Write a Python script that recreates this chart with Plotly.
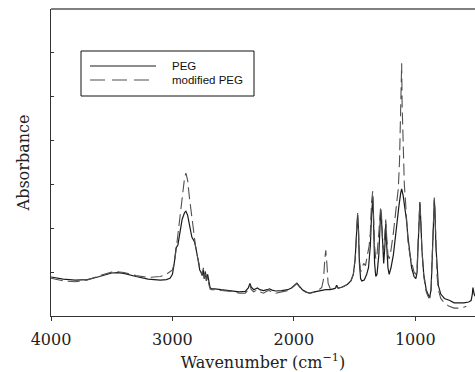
import plotly.graph_objects as go

# ---------------- data ----------------
peg_wn = [4000, 3900, 3800, 3700, 3600, 3500, 3450, 3400, 3300, 3200, 3100, 3050, 3020, 3000,
          2985, 2970, 2955, 2940, 2920, 2900, 2889, 2875, 2860, 2840, 2820, 2810, 2790, 2775,
          2765, 2755, 2745, 2738, 2728, 2720, 2710, 2700, 2690, 2680, 2650, 2600, 2500, 2450,
          2400, 2375, 2362, 2350, 2330, 2300, 2280, 2250, 2220, 2200, 2180, 2150, 2100, 2050,
          2020, 2000, 1975, 1955, 1930, 1900, 1870, 1830, 1800, 1760, 1737, 1700, 1660, 1647,
          1635, 1600, 1560, 1530, 1510, 1495, 1485, 1475, 1468, 1460, 1450, 1440, 1420, 1400,
          1385, 1370, 1360, 1350, 1345, 1335, 1325, 1315, 1300, 1285, 1278, 1268, 1260, 1250,
          1243, 1235, 1225, 1215, 1200, 1180, 1165, 1150, 1135, 1120, 1112, 1100, 1085, 1073,
          1060, 1045, 1030, 1010, 995, 985, 975, 968, 962, 955, 945, 930, 910, 890, 880, 870,
          860, 850, 843, 838, 830, 820, 810, 790, 760, 720, 680, 640, 600, 560, 540, 530, 525,
          515, 508]
peg_abs = [0.89, 0.84, 0.82, 0.83, 0.90, 0.98, 0.99, 0.97, 0.90, 0.84, 0.82, 0.83, 0.86, 0.95,
           1.20, 1.55, 1.62, 1.90, 2.20, 2.36, 2.39, 2.30, 2.05, 1.80, 1.70, 1.60, 1.30, 1.05,
           1.00, 0.92, 1.05, 0.85, 1.00, 0.80, 0.95, 0.78, 0.65, 0.62, 0.62, 0.60, 0.57, 0.55,
           0.56, 0.64, 0.74, 0.66, 0.60, 0.64, 0.60, 0.58, 0.60, 0.62, 0.59, 0.57, 0.58, 0.60,
           0.64, 0.70, 0.75, 0.68, 0.60, 0.55, 0.52, 0.55, 0.57, 0.59, 0.60, 0.60, 0.63, 0.70,
           0.63, 0.66, 0.72, 0.80, 0.95, 1.30, 1.80, 2.30, 2.00, 1.20, 0.85, 0.80, 0.82, 0.95,
           1.10, 1.60, 2.30, 2.70, 2.30, 1.20, 0.90, 0.95, 1.40, 2.40, 2.20, 1.40, 1.20, 1.60,
           2.10, 1.60, 1.10, 0.95, 1.10, 1.40, 1.80, 2.20, 2.50, 2.80, 2.90, 2.75, 2.50, 2.20,
           1.80, 1.40, 1.10, 0.90, 0.85, 1.00, 1.60, 2.30, 2.60, 2.20, 1.50, 0.95, 0.60, 0.46,
           0.44, 0.60, 1.20, 2.10, 2.65, 2.40, 1.60, 1.00, 0.70, 0.50, 0.40, 0.36, 0.30, 0.30,
           0.30, 0.32, 0.35, 0.50, 0.65, 0.50, 0.45]

mod_wn = [4000, 3900, 3800, 3700, 3600, 3500, 3450, 3400, 3300, 3200, 3100, 3050, 3000, 2985,
          2970, 2955, 2940, 2920, 2900, 2889, 2875, 2860, 2840, 2820, 2810, 2790, 2775, 2765,
          2755, 2745, 2738, 2728, 2720, 2710, 2700, 2690, 2680, 2650, 2600, 2500, 2450, 2400,
          2375, 2362, 2350, 2330, 2300, 2280, 2250, 2220, 2200, 2180, 2150, 2100, 2050, 2020,
          2000, 1975, 1955, 1930, 1900, 1870, 1830, 1800, 1770, 1755, 1745, 1737, 1728, 1718,
          1700, 1660, 1647, 1635, 1600, 1560, 1530, 1510, 1495, 1485, 1475, 1468, 1460, 1450,
          1440, 1425, 1410, 1395, 1380, 1370, 1360, 1350, 1345, 1335, 1325, 1315, 1300, 1285,
          1278, 1268, 1260, 1250, 1243, 1235, 1225, 1215, 1200, 1180, 1165, 1150, 1140, 1130,
          1122, 1116, 1112, 1108, 1100, 1090, 1080, 1070, 1060, 1045, 1030, 1010, 995, 985, 975,
          968, 962, 955, 945, 930, 910, 890, 880, 870, 860, 850, 843, 838, 830, 820, 810, 790,
          760, 720, 680, 640, 600, 580]
mod_abs = [0.86, 0.80, 0.78, 0.82, 0.92, 1.00, 1.01, 0.99, 0.92, 0.88, 0.90, 0.95, 1.05, 1.20,
           1.50, 1.85, 2.30, 2.80, 3.15, 3.26, 3.10, 2.70, 2.20, 1.80, 1.60, 1.30, 1.10, 1.00,
           0.95, 1.10, 0.85, 1.05, 0.80, 0.90, 0.72, 0.62, 0.60, 0.60, 0.58, 0.56, 0.52, 0.52,
           0.60, 0.70, 0.60, 0.55, 0.60, 0.55, 0.52, 0.57, 0.58, 0.54, 0.52, 0.55, 0.58, 0.63,
           0.68, 0.74, 0.67, 0.59, 0.54, 0.52, 0.54, 0.58, 0.65, 0.85, 1.30, 1.50, 1.20, 0.75,
           0.62, 0.64, 0.66, 0.64, 0.66, 0.72, 0.80, 0.95, 1.30, 1.80, 2.35, 2.00, 1.30, 1.00,
           1.10, 1.20, 1.15, 1.40, 1.60, 1.90, 2.60, 2.85, 2.40, 1.60, 1.30, 1.40, 1.90, 2.50,
           2.30, 1.60, 1.50, 1.90, 2.20, 1.80, 1.40, 1.30, 1.50, 1.90, 2.30, 2.60, 2.90, 3.50,
           4.50, 5.76, 5.76, 4.80, 3.60, 3.00, 2.60, 2.00, 1.70, 1.40, 1.20, 1.00, 0.95, 1.10, 1.80,
           2.50, 2.60, 2.20, 1.50, 0.90, 0.55, 0.42, 0.42, 0.60, 1.30, 2.20, 2.70, 2.40, 1.50, 0.90,
           0.60, 0.40, 0.30, 0.22, 0.18, 0.18, 0.20, 0.22]

series_names = ["PEG", "modified PEG"]
x_tick_vals = [4000, 3000, 2000, 1000]
x_tick_text = ["4000", "3000", "2000", "1000"]

# ---------------- layout geometry ----------------
W, H = 475, 372
L, R, T, B = 51, 0, 9, 56
PW, PH = W - L - R, H - T - B


def px(x):
    return (x - L) / PW


def py(y):
    return (H - B - y) / PH


SERIF = "DejaVu Serif"
SANS = "Liberation Sans, Arial"

fig = go.Figure()
fig.add_trace(go.Scatter(x=peg_wn, y=peg_abs, mode="lines", name=series_names[0],
                         line=dict(color="#1a1a1a", width=1.2), showlegend=False))
fig.add_trace(go.Scatter(x=mod_wn, y=mod_abs, mode="lines", name=series_names[1],
                         line=dict(color="#505050", width=1.1, dash="12px,5px"),
                         showlegend=False))

# manual legend (box, line samples, labels)
fig.add_shape(type="rect", xref="paper", yref="paper",
              x0=px(81), x1=px(254), y0=py(96), y1=py(51),
              line=dict(color="#111", width=1), fillcolor="white", layer="above")
fig.add_shape(type="line", xref="paper", yref="paper",
              x0=px(90), x1=px(156), y0=py(66), y1=py(66),
              line=dict(color="#1a1a1a", width=1.2))
fig.add_shape(type="line", xref="paper", yref="paper",
              x0=px(90), x1=px(156), y0=py(80), y1=py(80),
              line=dict(color="#505050", width=1.1, dash="15px,7px"))
for name, yy in zip(series_names, [66, 80]):
    fig.add_annotation(xref="paper", yref="paper", x=px(170), y=py(yy), text=name,
                       showarrow=False, xanchor="left", yanchor="middle",
                       font=dict(family=SANS, size=11.5, color="#111"))

# top frame line
fig.add_shape(type="line", xref="paper", yref="paper", x0=0, x1=1, y0=1, y1=1,
              line=dict(color="#808080", width=2))

fig.update_layout(
    width=W, height=H,
    margin=dict(l=L, r=R, t=T, b=B, pad=0),
    paper_bgcolor="white", plot_bgcolor="white",
    showlegend=False,
    xaxis=dict(range=[4000, 508], tickvals=x_tick_vals, ticktext=x_tick_text,
               ticks="outside", ticklen=4, tickcolor="#333", showgrid=False, zeroline=False,
               showline=True, linecolor="#333", linewidth=1, ticklabelstandoff=5,
               tickfont=dict(family=SERIF, size=16, color="#222"),
               title=dict(text="Wavenumber (cm<sup>\u22121</sup>)", standoff=11,
                          font=dict(family=SERIF, size=16, color="#222"))),
    yaxis=dict(range=[0, 7], dtick=1, tick0=0, showticklabels=False,
               ticks="inside", ticklen=3, tickcolor="#333", showgrid=False, zeroline=False,
               showline=True, linecolor="#333", linewidth=1,
               title=dict(text="Absorbance", standoff=16,
                          font=dict(family=SERIF, size=16, color="#222"))),
)

fig.write_html("out.html")
